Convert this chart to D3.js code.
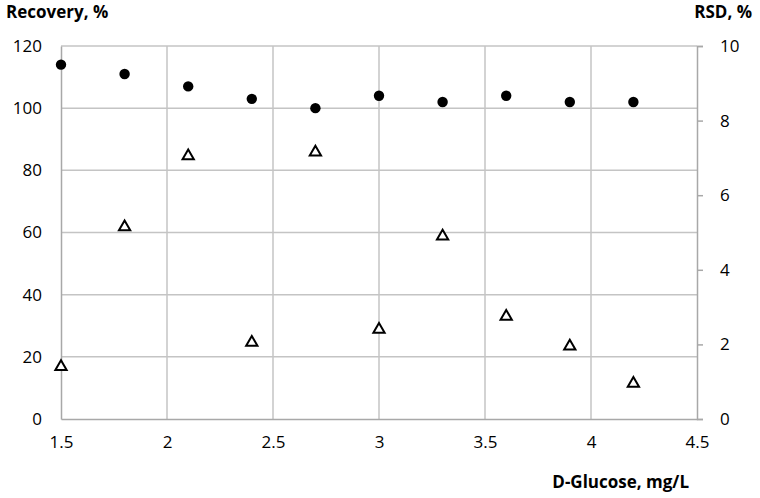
<!DOCTYPE html>
<html lang="en">
<head>
<meta charset="utf-8">
<title>Recovery and RSD vs D-Glucose</title>
<script src="https://d3js.org/d3.v7.min.js"></script>
<style>
  body { margin: 0; background: #fff; }
  svg text { font-family: "Open Sans", "DejaVu Sans", sans-serif; fill: #000; }
  .grid line { stroke: #c4c4c4; stroke-width: 1.5px; }
  .axis path, .axis line { stroke: #a8a8a8; stroke-width: 1.5px; }
</style>
</head>
<body>
<svg width="760" height="498"></svg>
<script>
// glucose concentration, mg/L
var glucose = [1.5, 1.8, 2.1, 2.4, 2.7, 3.0, 3.3, 3.6, 3.9, 4.2];
// recovery, % (left axis)
var recovery = [114, 111, 107, 103, 100, 104, 102, 104, 102, 102];
// relative standard deviation, % (right axis)
var rsd = [1.4, 5.15, 7.05, 2.05, 7.15, 2.4, 4.9, 2.75, 1.95, 0.95];

var xTicks = [1.5, 2, 2.5, 3, 3.5, 4, 4.5];
var leftTicks = [0, 20, 40, 60, 80, 100, 120];
var rightTicks = [0, 2, 4, 6, 8, 10];

var svg = d3.select("svg");
var margin = {top: 46, right: 63, bottom: 79, left: 61};
var width = 760 - margin.left - margin.right,
    height = 498 - margin.top - margin.bottom;

var g = svg.append("g")
  .attr("transform", "translate(" + margin.left + "," + margin.top + ")");

var x = d3.scaleLinear().domain([1.5, 4.5]).range([0, width]);
var yL = d3.scaleLinear().domain([0, 120]).range([height, 0]);
var yR = d3.scaleLinear().domain([0, 10]).range([height, 0]);

// grid
var grid = g.append("g").attr("class", "grid");
grid.selectAll(".h").data(leftTicks.slice(1)).enter().append("line")
  .attr("x1", 0).attr("x2", width)
  .attr("y1", d => yL(d)).attr("y2", d => yL(d));
grid.selectAll(".v").data(xTicks.slice(1, -1)).enter().append("line")
  .attr("y1", 0).attr("y2", height)
  .attr("x1", d => x(d)).attr("x2", d => x(d));

// axes
g.append("g").attr("class", "axis")
  .attr("transform", "translate(0," + height + ")")
  .call(d3.axisBottom(x).tickValues(xTicks).tickSize(0).tickPadding(17)
    .tickFormat(d3.format("")))
  .selectAll("text").style("font-size", "17px");

g.append("g").attr("class", "axis")
  .call(d3.axisLeft(yL).tickValues(leftTicks).tickSize(0).tickPadding(19))
  .selectAll("text").style("font-size", "17px");

g.append("g").attr("class", "axis")
  .attr("transform", "translate(" + width + ",0)")
  .call(d3.axisRight(yR).tickValues(rightTicks).tickSize(6).tickPadding(17))
  .selectAll("text").style("font-size", "17px");

// recovery points
g.selectAll(".rec").data(glucose).enter().append("circle")
  .attr("cx", d => x(d))
  .attr("cy", (d, i) => yL(recovery[i]))
  .attr("r", 5.2)
  .attr("fill", "#000");

// rsd triangles
var tri = d3.symbol().type(d3.symbolTriangle).size(55);
g.selectAll(".rsd").data(glucose).enter().append("path")
  .attr("d", tri)
  .attr("transform", (d, i) => "translate(" + x(d) + "," + yR(rsd[i]) + ")")
  .attr("fill", "#fff")
  .attr("stroke", "#000")
  .attr("stroke-width", 2);

// titles
svg.append("text").attr("x", 6).attr("y", 18)
  .style("font-size", "17px").style("font-weight", "bold")
  .text("Recovery, %");
svg.append("text").attr("x", 752).attr("y", 18)
  .attr("text-anchor", "end")
  .style("font-size", "17px").style("font-weight", "bold")
  .text("RSD, %");
svg.append("text").attr("x", 689).attr("y", 488)
  .attr("text-anchor", "end")
  .style("font-size", "17px").style("font-weight", "bold")
  .text("D-Glucose, mg/L");
</script>
</body>
</html>
